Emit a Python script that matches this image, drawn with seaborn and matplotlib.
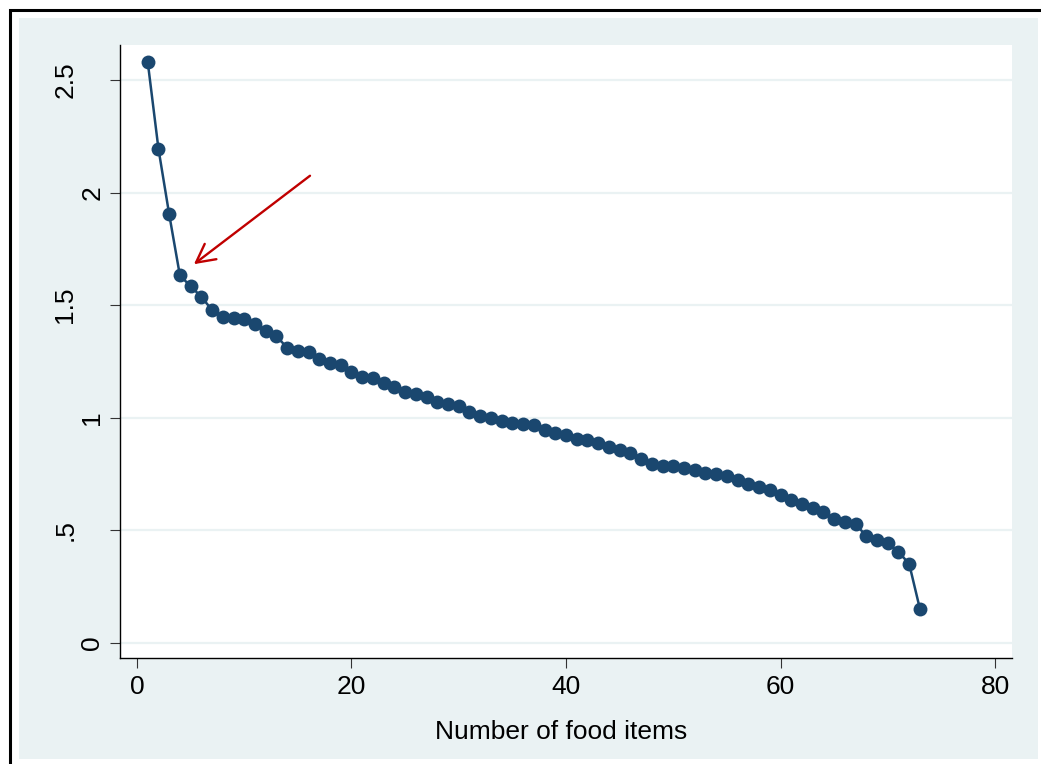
import numpy as np
import pandas as pd
import matplotlib
matplotlib.use('Agg')
import matplotlib.pyplot as plt
import matplotlib.patches as mpatches
from matplotlib.transforms import ScaledTranslation
import seaborn as sns

# scree values
food_items = list(range(1, 74))
eigenvalues = [
    2.581, 2.195, 1.904, 1.632, 1.584, 1.537, 1.478, 1.448, 1.444, 1.437,
    1.416, 1.384, 1.362, 1.311, 1.298, 1.293, 1.259, 1.241, 1.234, 1.201,
    1.179, 1.175, 1.152, 1.137, 1.115, 1.105, 1.090, 1.071, 1.060, 1.053,
    1.026, 1.007, 1.000, 0.986, 0.975, 0.970, 0.966, 0.944, 0.930, 0.921,
    0.906, 0.900, 0.886, 0.868, 0.856, 0.841, 0.815, 0.794, 0.785, 0.785,
    0.775, 0.767, 0.755, 0.749, 0.742, 0.723, 0.705, 0.690, 0.678, 0.656,
    0.634, 0.615, 0.600, 0.579, 0.548, 0.538, 0.526, 0.475, 0.456, 0.442,
    0.404, 0.350, 0.150,
]
x_ticks = [0, 20, 40, 60, 80]
y_ticks = [0, 0.5, 1, 1.5, 2, 2.5]
y_tick_labels = ['0', '.5', '1', '1.5', '2', '2.5']
x_title = 'Number of food items'

# arrow pointing at the elbow (tail -> head, data units)
arrow_tail = (16.13, 2.075)
arrow_head = (5.31, 1.682)

Line_Color = '#1A476F'
Bg_Color = '#EAF2F3'
Font_Size = 19

sns.set_style('white')
plt.rcParams['font.family'] = ['Liberation Sans', 'DejaVu Sans']

df = pd.DataFrame({'item': food_items, 'eig': eigenvalues})

fig = plt.figure(figsize=(10.41, 7.64), dpi=100, facecolor='white')
W, H = 1041, 764

# stata style light panel + black outer frame, kept behind the axes
fig.patches.append(mpatches.Rectangle((19 / W, 1 - 759 / H), (1038 - 19) / W, (759 - 18) / H,
                                      transform=fig.transFigure, facecolor=Bg_Color,
                                      edgecolor='none', zorder=-2))
fig.patches.append(mpatches.Rectangle((10 / W, -0.1), 1.2, 1 - 10 / H + 0.1,
                                      transform=fig.transFigure, facecolor='none',
                                      edgecolor='black', linewidth=2.2, zorder=-1))

ax = fig.add_axes([120 / W, 1 - 658 / H, (1012 - 120) / W, (658 - 45) / H])
ax.set_facecolor('white')

sns.lineplot(data=df, x='item', y='eig', ax=ax, color=Line_Color, linewidth=1.8,
             marker='o', markersize=10, markeredgecolor=Line_Color,
             markeredgewidth=0, zorder=3)

ax.annotate('', xy=arrow_head, xytext=arrow_tail,
            arrowprops=dict(arrowstyle='->,head_length=0.4,head_width=0.21',
                            mutation_scale=33, color='#C00000', lw=1.7,
                            shrinkA=0, shrinkB=0), zorder=4)

ax.set_xlim(-1.585, 81.585)
ax.set_ylim(-0.068, 2.656)
ax.set_xticks(x_ticks)
ax.set_xticklabels([str(v) for v in x_ticks])
ax.set_yticks(y_ticks)
ax.set_yticklabels(y_tick_labels, rotation=90, va='center')

ax.yaxis.grid(True, color=Bg_Color, linewidth=1.6, zorder=0)
ax.xaxis.grid(False)
ax.set_axisbelow(True)

for side in ['top', 'right']:
    ax.spines[side].set_visible(False)
for side in ['left', 'bottom']:
    ax.spines[side].set_color('black')
    ax.spines[side].set_linewidth(1.0)

ax.tick_params(axis='both', which='major', direction='out', length=7.2, width=0.8,
               color='#333333', labelsize=Font_Size, labelcolor='black')
ax.tick_params(axis='x', pad=5, bottom=True)
ax.tick_params(axis='y', pad=4, left=True)

ax.set_xlabel(x_title, fontsize=Font_Size, labelpad=15, color='black')
ax.xaxis.label.set_x(0.4944)
ax.set_ylabel('')

# stata nudges the labels that carry a decimal point further out
fig.canvas.draw()
for lab in ax.get_yticklabels():
    if '.' in lab.get_text():
        lab.set_transform(lab.get_transform() + ScaledTranslation(-27 / 100, 0, fig.dpi_scale_trans))

fig.savefig('out.png', dpi=100, facecolor='white')
